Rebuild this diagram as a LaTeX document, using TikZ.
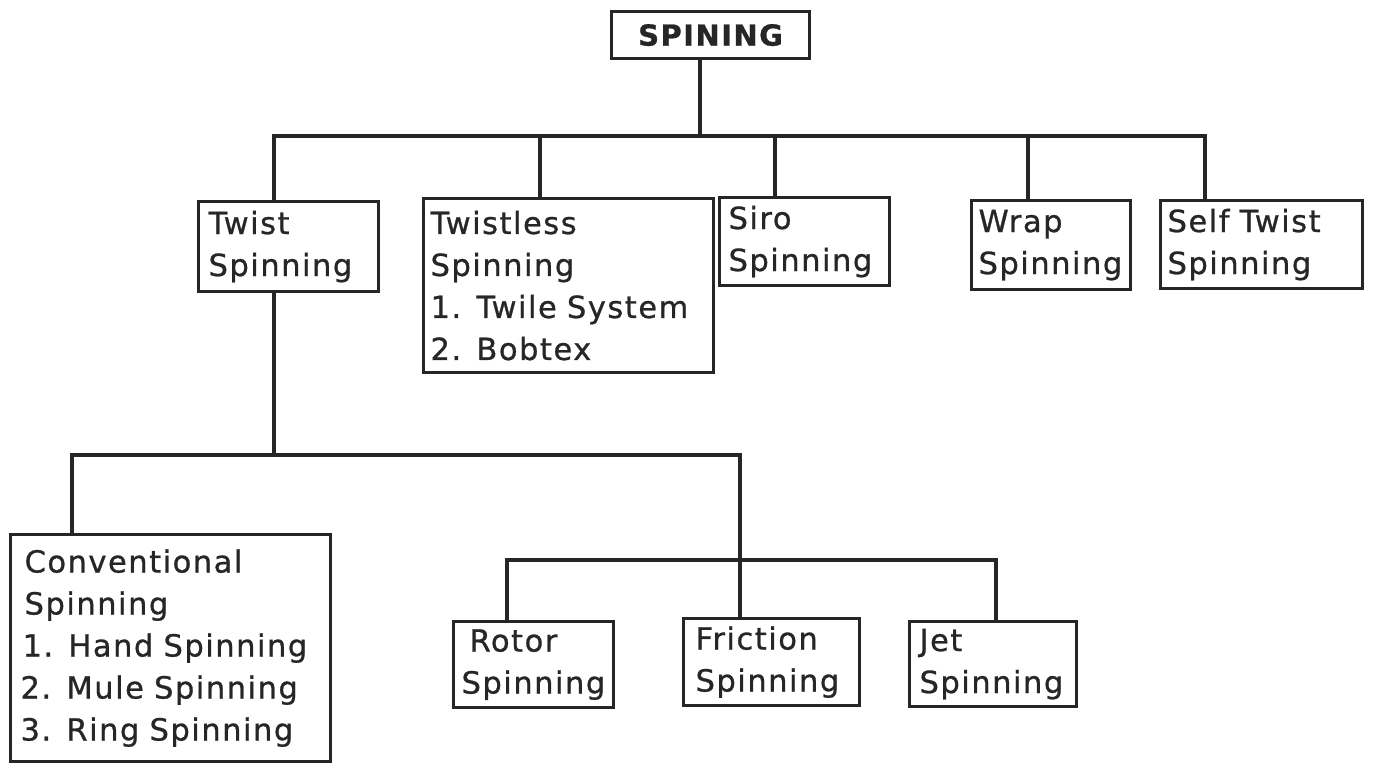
\documentclass[tikz,border=0pt]{standalone}
\usepackage{fontspec}
\setmainfont{DejaVu Sans}[LetterSpace=5.0, FakeBold=0.8]
\definecolor{ink}{HTML}{262626}
\newcommand{\rowtxt}[1]{\mbox{#1}}
\tikzset{
  treebox/.style={draw=ink, line width=3.2pt, rectangle, anchor=north west,
    inner ysep=0pt, align=left, text=ink,
    font=\fontsize{30.5}{42}\selectfont},
  treewire/.style={ink, line width=3.2pt, line cap=rect},
}
\begin{document}
\begin{tikzpicture}[x=1pt, y=-1pt]
\useasboundingbox[fill=white] (0,0) rectangle (1374,764);

% root
\node[draw=ink, line width=3.2pt, minimum width=198pt, minimum height=47pt,
      inner sep=0pt, anchor=north west, text=ink,
      font=\fontsize{29}{32}\selectfont\bfseries] (root) at (610,10) {SPINING};

% first level
\node[treebox, text width=160pt, inner xsep=10pt, minimum height=90pt] (twist) at (197,200)
  {\rowtxt{Twist}\\\rowtxt{Spinning}};
\node[treebox, text width=276pt, inner xsep=7pt, minimum height=174pt] (twistless) at (422,197)
  {\rowtxt{Twistless}\\\rowtxt{Spinning}\\\rowtxt{1. Twile System}\\\rowtxt{2. Bobtex}};
\node[treebox, text width=152pt, inner xsep=9pt, minimum height=88pt] (siro) at (718,196)
  {\rowtxt{Siro}\\\rowtxt{Spinning}};
\node[treebox, text width=145pt, inner xsep=7pt, minimum height=89pt] (wrap) at (970,199)
  {\rowtxt{Wrap}\\\rowtxt{Spinning}};
\node[treebox, text width=188pt, inner xsep=7pt, minimum height=88pt] (selftw) at (1159,199)
  {\rowtxt{Self Twist}\\\rowtxt{Spinning}};

% second level
\node[treebox, text width=300pt, inner xsep=10pt, minimum height=227pt] (conv) at (9,533)
  {\rowtxt{\hspace{4pt}Conventional}\\\rowtxt{\hspace{4pt}Spinning}\\\rowtxt{\hspace{2pt}1. Hand Spinning}\\\rowtxt{2. Mule Spinning}\\\rowtxt{3. Ring Spinning}};

% third level
\node[treebox, text width=144pt, inner xsep=8pt, minimum height=86pt] (rotor) at (452,620)
  {\rowtxt{\hspace{8pt}Rotor}\\\rowtxt{Spinning}};
\node[treebox, text width=152pt, inner xsep=12pt, minimum height=87pt] (friction) at (682,617)
  {\rowtxt{Friction}\\\rowtxt{Spinning}};
\node[treebox, text width=147pt, inner xsep=10pt, minimum height=85pt] (jet) at (908,620)
  {\rowtxt{Jet}\\\rowtxt{Spinning}};

% junction points of the wiring
\coordinate (busA) at (700,136);
\coordinate (busB) at (274,455);
\coordinate (busC) at (740,560);
\coordinate (dTwist) at (274,200);
\coordinate (dTwistless) at (540,197);
\coordinate (dSiro) at (775,196);
\coordinate (dWrap) at (1028,199);
\coordinate (dSelf) at (1205,199);
\coordinate (dConv) at (72,533);
\coordinate (dRotor) at (507,620);
\coordinate (dFriction) at (740,617);
\coordinate (dJet) at (996,620);

% root to first level
\draw[treewire] (root.south -| busA) -- (busA);
\draw[treewire] (dTwist) -- (dTwist |- busA) -- (dSelf |- busA) -- (dSelf);
\draw[treewire] (dTwistless) -- (dTwistless |- busA);
\draw[treewire] (dSiro) -- (dSiro |- busA);
\draw[treewire] (dWrap) -- (dWrap |- busA);

% twist spinning to its branches
\draw[treewire] (twist.south -| dTwist) -- (busB);
\draw[treewire] (dConv) -- (dConv |- busB) -- (dFriction |- busB) -- (dFriction);
\draw[treewire] (dRotor) -- (dRotor |- busC) -- (dJet |- busC) -- (dJet);
\end{tikzpicture}
\end{document}
